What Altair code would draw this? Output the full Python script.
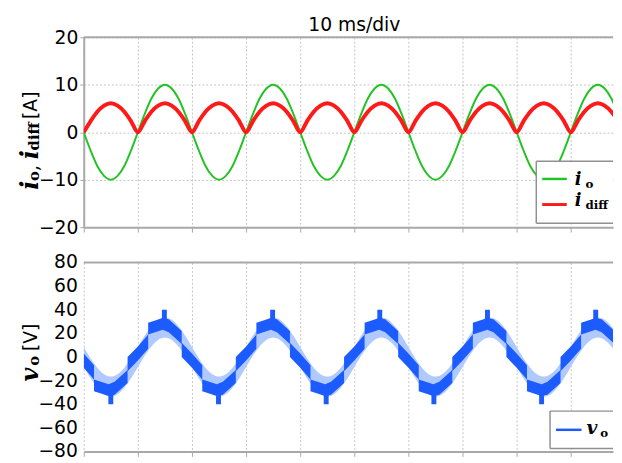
import altair as alt
import pandas as pd

step_ms = 1.25
io = [
    0, -3.8, -7.1, -9.2, -10, -9.2, -7.1, -3.8, 0, 3.8, 7.1, 9.2, 10, 9.2, 7.1, 3.8,
    0, -3.8, -7.1, -9.2, -10, -9.2, -7.1, -3.8, 0, 3.8, 7.1, 9.2, 10, 9.2, 7.1, 3.8,
    0, -3.8, -7.1, -9.2, -10, -9.2, -7.1, -3.8, 0, 3.8, 7.1, 9.2, 10, 9.2, 7.1, 3.8,
    0, -3.8, -7.1, -9.2, -10, -9.2, -7.1, -3.8, 0, 3.8, 7.1, 9.2, 10, 9.2, 7.1, 3.8,
    0, -3.8, -7.1, -9.2, -10, -9.2, -7.1, -3.8, 0, 3.8, 7.1, 9.2, 10, 9.2, 7.1, 3.8,
]
idiff = [
    0, 2.3, 4.3, 5.6, 6.1, 5.6, 4.3, 2.3, 0, 2.3, 4.3, 5.6, 6.1, 5.6, 4.3, 2.3,
    0, 2.3, 4.3, 5.6, 6.1, 5.6, 4.3, 2.3, 0, 2.3, 4.3, 5.6, 6.1, 5.6, 4.3, 2.3,
    0, 2.3, 4.3, 5.6, 6.1, 5.6, 4.3, 2.3, 0, 2.3, 4.3, 5.6, 6.1, 5.6, 4.3, 2.3,
    0, 2.3, 4.3, 5.6, 6.1, 5.6, 4.3, 2.3, 0, 2.3, 4.3, 5.6, 6.1, 5.6, 4.3, 2.3,
    0, 2.3, 4.3, 5.6, 6.1, 5.6, 4.3, 2.3, 0, 2.3, 4.3, 5.6, 6.1, 5.6, 4.3, 2.3,
]
# v_o switching band: outer envelope (light part)
vo_env_lo = [
    -8.5, -18, -26, -31.5, -33.5, -31.5, -26, -18, -8.5, 1, 9, 14.5, 16.5, 14.5, 9, 1,
    -8.5, -18, -26, -31.5, -33.5, -31.5, -26, -18, -8.5, 1, 9, 14.5, 16.5, 14.5, 9, 1,
    -8.5, -18, -26, -31.5, -33.5, -31.5, -26, -18, -8.5, 1, 9, 14.5, 16.5, 14.5, 9, 1,
    -8.5, -18, -26, -31.5, -33.5, -31.5, -26, -18, -8.5, 1, 9, 14.5, 16.5, 14.5, 9, 1,
    -8.5, -18, -26, -31.5, -33.5, -31.5, -26, -18, -8.5, 1, 9, 14.5, 16.5, 14.5, 9, 1,
]
vo_env_hi = [
    8.5, -1, -9, -14.5, -16.5, -14.5, -9, -1, 8.5, 18, 26, 31.5, 33.5, 31.5, 26, 18,
    8.5, -1, -9, -14.5, -16.5, -14.5, -9, -1, 8.5, 18, 26, 31.5, 33.5, 31.5, 26, 18,
    8.5, -1, -9, -14.5, -16.5, -14.5, -9, -1, 8.5, 18, 26, 31.5, 33.5, 31.5, 26, 18,
    8.5, -1, -9, -14.5, -16.5, -14.5, -9, -1, 8.5, 18, 26, 31.5, 33.5, 31.5, 26, 18,
    8.5, -1, -9, -14.5, -16.5, -14.5, -9, -1, 8.5, 18, 26, 31.5, 33.5, 31.5, 26, 18,
]
# dense (dark) blocks of v_o: corner points
dark_t = [
    0, 1.9, 1.9, 4.6, 5.7, 8.1, 8.1, 10, 11.9, 11.9, 14.6, 15.7, 18.1, 18.1,
    20, 21.9, 21.9, 24.6, 25.7, 28.1, 28.1, 30, 31.9, 31.9, 34.6, 35.7, 38.1, 38.1,
    40, 41.9, 41.9, 44.6, 45.7, 48.1, 48.1, 50, 51.9, 51.9, 54.6, 55.7, 58.1, 58.1,
    60, 61.9, 61.9, 64.6, 65.7, 68.1, 68.1, 70, 71.9, 71.9, 74.6, 75.7, 78.1, 78.1,
    80, 81.9, 81.9, 84.6, 85.7, 88.1, 88.1, 90, 91.9, 91.9, 94.6, 95.7, 98.1, 98.1,
]
dark_lo = [
    -9, -19, -29, -33, -32, -22, -12, -3, 7, 19, 23, 21, 11, 0,
    -9, -19, -29, -33, -32, -22, -12, -3, 7, 19, 23, 21, 11, 0,
    -9, -19, -29, -33, -32, -22, -12, -3, 7, 19, 23, 21, 11, 0,
    -9, -19, -29, -33, -32, -22, -12, -3, 7, 19, 23, 21, 11, 0,
    -9, -19, -29, -33, -32, -22, -12, -3, 7, 19, 23, 21, 11, 0,
]
dark_hi = [
    3, -7, -19, -23, -21, -11, 0, 9, 19, 29, 33, 32, 22, 12,
    3, -7, -19, -23, -21, -11, 0, 9, 19, 29, 33, 32, 22, 12,
    3, -7, -19, -23, -21, -11, 0, 9, 19, 29, 33, 32, 22, 12,
    3, -7, -19, -23, -21, -11, 0, 9, 19, 29, 33, 32, 22, 12,
    3, -7, -19, -23, -21, -11, 0, 9, 19, 29, 33, 32, 22, 12,
]
spike_t = [5.0, 14.9, 24.9, 34.9, 44.8, 54.7, 64.7, 74.6, 84.6, 94.6]
spike_lo = [-40, 29, -40, 29, -40, 29, -40, 29, -40, 29]
spike_hi = [-29, 40, -29, 40, -29, 40, -29, 40, -29, 40]

x_ticks = [0, 10, 20, 30, 40, 50, 60, 70, 80, 90]
yi_ticks = [-20, -10, 0, 10, 20]
yv_ticks = [-80, -60, -40, -20, 0, 20, 40, 60, 80]

# ---- layout / style ----
W = 538
H1 = 193
H2 = 192
GREEN = "#22c322"
RED = "#ff1a1a"
BLUE = "#1c5cff"
LIGHTBLUE = "#b0c9ff"
AXC = "#a8a8a8"
GRIDC = "#c4c4c4"
SERIF = "DejaVu Serif"
SANS = "DejaVu Sans"

t = [k * step_ms for k in range(len(io))]
df = pd.DataFrame({
    "t": t, "io": io, "idiff": idiff, "elo": vo_env_lo, "ehi": vo_env_hi,
})
dk = pd.DataFrame({"t": dark_t, "lo": dark_lo, "hi": dark_hi})
sp = pd.DataFrame({"t": spike_t, "lo": spike_lo, "hi": spike_hi})
vlab = pd.DataFrame({"v": yv_ticks})
one = pd.DataFrame({"a": [0]})

xscale = alt.Scale(domain=[0, 97.8], nice=False, zero=False)
xaxis = alt.Axis(values=x_ticks, labels=False, title=None, grid=True,
                 gridColor=GRIDC, gridDash=[2, 2], tickSize=5, tickColor=AXC,
                 domainColor=AXC, domainWidth=2)


def yaxis(vals, labels=True):
    return alt.Axis(values=vals, title=None, grid=True, gridColor=GRIDC,
                    gridDash=[2, 2], tickSize=4, tickColor=AXC, domainColor=AXC,
                    domainWidth=2, labelFont=SANS, labelFontSize=19,
                    labelColor="#000", labelPadding=2, labelOverlap=False,
                    labels=labels)


def txt(s, x, y, size, font=SERIF, weight="bold", style="normal", angle=0):
    kw = dict(text=s, font=font, fontSize=size, fontWeight=weight,
              fontStyle=style, align="left", baseline="alphabetic", color="#000")
    if angle:
        kw["angle"] = angle
    return alt.Chart(one).mark_text(**kw).encode(x=alt.value(x), y=alt.value(y))


def rule(x, x2, y, y2, color, width):
    enc = dict(x=alt.value(x), y=alt.value(y))
    if x2 is not None:
        enc["x2"] = alt.value(x2)
    if y2 is not None:
        enc["y2"] = alt.value(y2)
    return alt.Chart(one).mark_rule(color=color, strokeWidth=width).encode(**enc)


def legend_box(x0, y0, y1):
    box = alt.Chart(one).mark_rect(fill="white").encode(
        x=alt.value(x0), x2=alt.value(W), y=alt.value(y0), y2=alt.value(y1))
    return [box, rule(x0, W, y0, None, "#909090", 1.5),
            rule(x0, W, y1, None, "#909090", 1.5),
            rule(x0, None, y0, y1, "#909090", 1.5)]


# ---- top panel ----
base = alt.Chart(df)
ysc1 = alt.Scale(domain=[-20, 20], nice=False)
io_line = base.mark_line(color=GREEN, strokeWidth=2, interpolate="monotone", clip=True).encode(
    x=alt.X("t:Q", scale=xscale, axis=xaxis),
    y=alt.Y("io:Q", scale=ysc1, axis=yaxis(yi_ticks)))
id_line = base.mark_line(color=RED, strokeWidth=4, interpolate="monotone", clip=True).encode(
    x="t:Q", y="idiff:Q")

top_layers = [io_line, id_line, rule(0, W, 0, None, AXC, 2)]
top_layers += legend_box(460, 126, 189)
top_layers += [
    rule(466, 491, 144, None, GREEN, 2.5),
    rule(466, 491, 170, None, RED, 3),
    txt("i", 499, 150, 18, style="italic"),
    txt("o", 510, 153, 12),
    txt("i", 499, 172, 18, style="italic"),
    txt("diff", 510, 175, 12),
    # rotated y title
    txt("i", -47, 155, 24, style="italic", angle=270),
    txt("o", -45, 146, 15, angle=270),
    txt(",", -47, 136, 20, weight="normal", angle=270),
    txt("i", -47, 124, 24, style="italic", angle=270),
    txt("diff", -45, 115, 15, angle=270),
    txt("[A]", -48, 83, 19, font=SANS, weight="normal", angle=270),
]
top = alt.layer(*top_layers).properties(
    width=W, height=H1,
    title=alt.TitleParams("10 ms/div", font=SANS, fontSize=19, fontWeight="normal",
                          color="#000", anchor="middle", dx=6, offset=-7))

# ---- bottom panel ----
ysc2 = alt.Scale(domain=[-80, 80], nice=False)
env = base.mark_area(color=LIGHTBLUE, interpolate="monotone", clip=True).encode(
    x=alt.X("t:Q", scale=xscale, axis=xaxis),
    y=alt.Y("elo:Q", scale=ysc2, axis=yaxis(yv_ticks, labels=False)), y2="ehi:Q")
dark = alt.Chart(dk).mark_area(color=BLUE, interpolate="linear", clip=True).encode(
    x="t:Q", y="lo:Q", y2="hi:Q")
spikes = alt.Chart(sp).mark_rule(color=BLUE, strokeWidth=5, clip=True).encode(
    x="t:Q", y="lo:Q", y2="hi:Q")
vlabels = alt.Chart(vlab).mark_text(
    font=SANS, fontSize=19, align="right", baseline="middle", color="#000"
).encode(x=alt.value(-6), y=alt.Y("v:Q", scale=ysc2, axis=None),
         text=alt.Text("v:Q", format="d"))

bot_layers = [env, dark, spikes, rule(0, W, 0, None, AXC, 2), vlabels]
bot_layers += legend_box(474, 151, 189)
bot_layers += [
    rule(480, 506, 170, None, BLUE, 2.5),
    txt("v", 511, 174, 19, style="italic"),
    txt("o", 525, 177, 12),
    txt("v", -47, 121, 24, style="italic", angle=270),
    txt("o", -45, 105, 15, angle=270),
    txt("[V]", -48, 90, 19, font=SANS, weight="normal", angle=270),
]
bottom = alt.layer(*bot_layers).properties(width=W, height=H2)

chart = alt.vconcat(top, bottom, spacing=17).properties(
    padding={"left": 11, "top": 5, "right": 0, "bottom": 0}
).configure_view(stroke=None)

chart.save("out.html", embed_options={"renderer": "svg", "actions": False})
